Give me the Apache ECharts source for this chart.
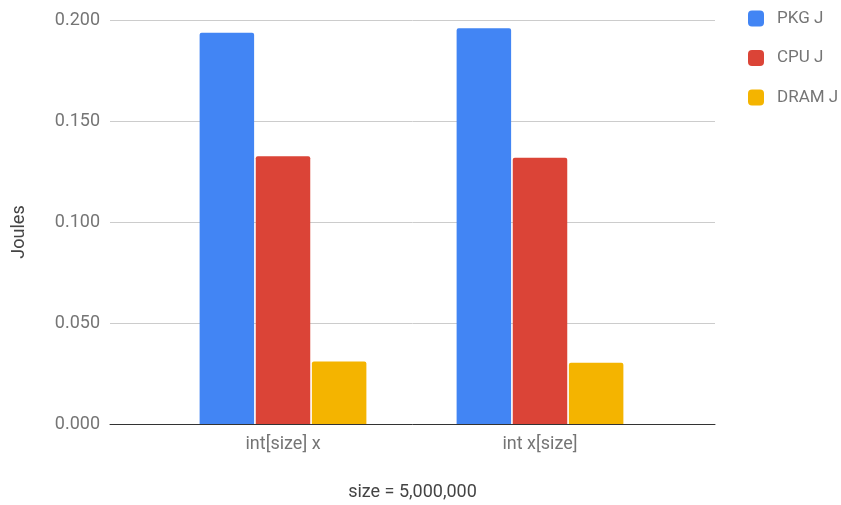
<!DOCTYPE html>
<html>
<head>
<meta charset="utf-8">
<script src="https://cdn.jsdelivr.net/npm/echarts@6/dist/echarts.min.js"></script>
<style>
  html, body { margin: 0; padding: 0; background: #fff; }
  #main { width: 841px; height: 505px; }
</style>
</head>
<body>
<div id="main"></div>
<script>
// data
const categories = ["int[size] x", "int x[size]"];
const seriesNames = ["PKG J", "CPU J", "DRAM J"];
const pkg = [0.1937, 0.1959];
const cpu = [0.1325, 0.1318];
const dram = [0.0310, 0.0303];
const colors = ["#4285f4", "#db4437", "#f4b400"];

let chart = echarts.init(document.getElementById("main"));
let font = "Roboto";
let values = [pkg, cpu, dram];
let seriesData = [];
for (let i = 0; i < values.length; i++) {
  seriesData.push({
    name: seriesNames[i],
    type: "bar",
    xAxisIndex: 1,
    yAxisIndex: 1,
    barWidth: 54.5,
    barGap: "3%",
    itemStyle: { color: colors[i], borderRadius: [2, 2, 0, 0] },
    data: values[i]
  });
}

let option = {
  animation: false,
  textStyle: { fontFamily: font },
  legend: {
    orient: "vertical",
    left: 748,
    top: 10,
    padding: 0,
    itemWidth: 16,
    itemHeight: 16,
    itemGap: 22.5,
    icon: "roundRect",
    textStyle: { color: "#757575", fontSize: 17, fontFamily: font, padding: [0, 0, 0, 8] },
    data: seriesNames
  },
  grid: [
    { left: 110, right: 126, top: 20, bottom: 81, outerBoundsMode: "none", containLabel: false },
    { left: 154.5, right: 172.5, top: 20, bottom: 81, outerBoundsMode: "none", containLabel: false }
  ],
  xAxis: [
    {
      gridIndex: 0,
      type: "value",
      min: 0,
      max: 1,
      name: "size = 5,000,000",
      nameLocation: "middle",
      nameGap: 59,
      nameTextStyle: { color: "#444", fontSize: 18, fontFamily: font },
      axisLine: { show: true, lineStyle: { color: "#333", width: 1 } },
      axisTick: { show: false },
      axisLabel: { show: false },
      splitLine: { show: false }
    },
    {
      gridIndex: 1,
      type: "category",
      data: categories,
      axisLine: { show: false },
      axisTick: { show: false },
      axisLabel: { color: "#757575", fontSize: 18, fontFamily: font, margin: 11 }
    }
  ],
  yAxis: [
    {
      gridIndex: 0,
      type: "value",
      min: 0,
      max: 0.2,
      interval: 0.05,
      name: "Joules",
      nameLocation: "middle",
      nameGap: 82,
      nameTextStyle: { color: "#444", fontSize: 18, fontFamily: font, padding: [0, 20, 0, 0] },
      axisLine: { show: false },
      axisTick: { show: false },
      axisLabel: {
        color: "#757575",
        fontSize: 18,
        fontFamily: font,
        margin: 10,
        formatter: v => v.toFixed(3)
      },
      splitLine: { show: true, lineStyle: { color: "#ccc", width: 1 } }
    },
    {
      gridIndex: 1,
      type: "value",
      min: 0,
      max: 0.2,
      show: false
    }
  ],
  series: seriesData
};
chart.setOption(option);
</script>
</body>
</html>
